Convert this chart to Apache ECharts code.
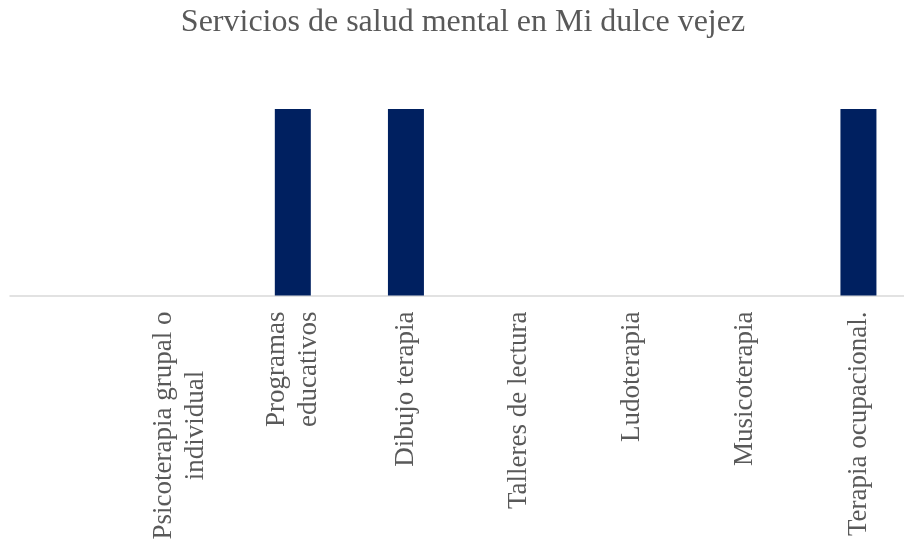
<!DOCTYPE html>
<html>
<head>
<meta charset="utf-8">
<script src="https://cdn.jsdelivr.net/npm/echarts@6/dist/echarts.min.js"></script>
<style>
  html, body { margin: 0; padding: 0; background: #fff; }
  #chart { width: 904px; height: 545px; }
</style>
</head>
<body>
<div id="chart"></div>
<script>
// services listed in the survey
var categories = [
  'Psicoterapia grupal o\nindividual',
  'Programas\neducativos',
  'Dibujo terapia',
  'Talleres de lectura',
  'Ludoterapia',
  'Musicoterapia',
  'Terapia ocupacional.'
];
// 1 = offered, 0 = not offered
var values = [0, 1, 1, 0, 0, 0, 1];

var serif = '"Liberation Serif", "Times New Roman", serif';

var chart = echarts.init(document.getElementById('chart'));

var option = {
  animation: false,
  title: {
    text: 'Servicios de salud mental en Mi dulce vejez',
    left: 458,
    top: 2,
    textAlign: 'center',
    textStyle: {
      fontFamily: serif,
      fontSize: 32,
      fontWeight: 'normal',
      color: '#595959'
    }
  },
  grid: {
    left: 10,
    width: 905,
    top: 109,
    bottom: 249.5,
    containLabel: false,
    outerBoundsMode: 'none'
  },
  xAxis: {
    type: 'category',
    // leading blank slot so the baseline runs out to the left edge
    data: [''].concat(categories),
    axisLine: { lineStyle: { color: '#d9d9d9', width: 1.5 } },
    axisTick: { show: false },
    axisLabel: {
      interval: 0,
      rotate: 90,
      margin: 16,
      formatter: function (v) {
        return v.split('\n').map(function (l) { return '{c|' + l + '}'; }).join('\n');
      },
      rich: {
        c: {
          align: 'center',
          fontFamily: serif,
          fontSize: 27,
          lineHeight: 32,
          color: '#595959'
        }
      }
    }
  },
  yAxis: {
    type: 'value',
    min: 0,
    max: 1,
    show: false,
    splitLine: { show: false }
  },
  series: [{
    type: 'bar',
    data: [null].concat(values),
    barWidth: 36,
    itemStyle: { color: '#002060' }
  }]
};

chart.setOption(option);
</script>
</body>
</html>
